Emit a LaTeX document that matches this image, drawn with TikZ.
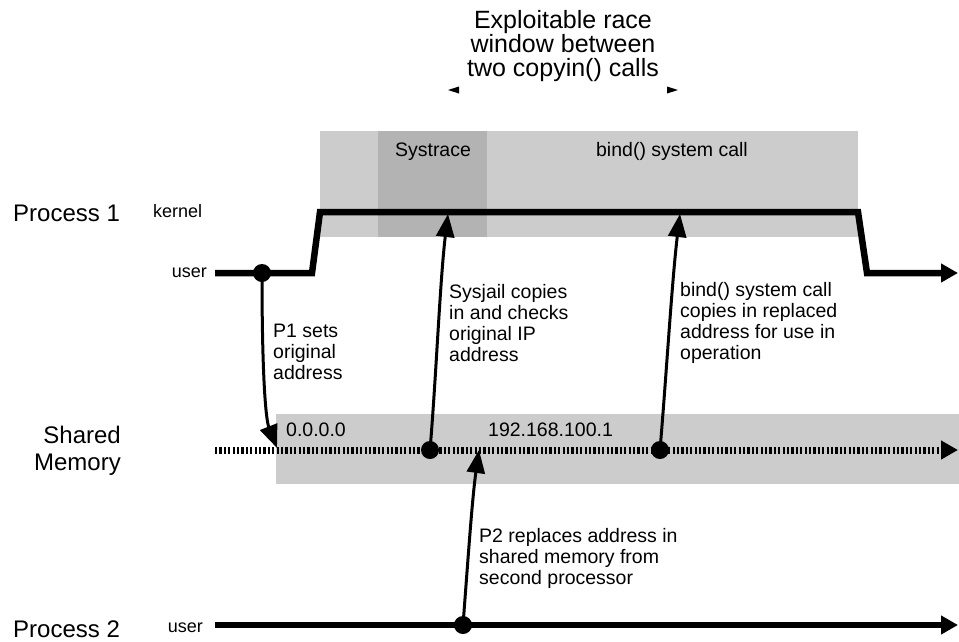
\documentclass[tikz,border=0pt]{standalone}
\usepackage{fontspec}
\setmainfont{Liberation Sans}
\usetikzlibrary{arrows.meta}
\definecolor{lg}{HTML}{CCCCCC}
\definecolor{dg}{HTML}{B3B3B3}
\begin{document}
\begin{tikzpicture}[x=1pt,y=-1pt,
  tline/.style={line width=6.5pt, line join=miter, -{Triangle[length=17pt,width=18pt]}},
  mline/.style={line width=7pt, dash pattern=on 2.2pt off 2.2pt, -{Triangle[length=17pt,width=18pt]}},
  conn/.style={line width=3pt, -{Triangle[length=23pt,width=18pt]}},
  dot/.style={circle, fill=black, inner sep=0pt, minimum size=18pt},
  lbl/.style={font=\fontsize{19.5}{21}\selectfont, align=left, anchor=north west, inner sep=0pt},
  big/.style={font=\fontsize{24}{27}\selectfont, inner sep=0pt},
  small/.style={font=\fontsize{18}{20}\selectfont, inner sep=0pt},
  mid/.style={font=\fontsize{19.5}{21}\selectfont, inner sep=0pt},
  tri/.style={fill=black}
]
\useasboundingbox (0,0) rectangle (959,641);
% background areas
\fill[lg] (320,131) rectangle (858,237);
\fill[dg] (378,131) rectangle (487,237);
\fill[lg] (276,414) rectangle (959,484);
% title
\node[font=\fontsize{25}{24}\selectfont, align=center, anchor=north, inner sep=0pt] (title) at (563,10)
  {Exploitable race\\window between\\two copyin() calls};
\fill[tri] (448,90) -- (459,86.5) -- (459,93.5) -- cycle;
\fill[tri] (678,90) -- (667,86.5) -- (667,93.5) -- cycle;
% left labels
\node[big, anchor=base west] (proc1) at (13,221) {Process 1};
\node[small, anchor=base west] (kern) at (153,217) {kernel};
\node[small, anchor=base east] (user1) at (207,277) {user};
\node[big, anchor=north east, align=right] (shm) at (121,426) {Shared\\Memory};
\node[big, anchor=base west] (proc2) at (13,637) {Process 2};
\node[small, anchor=base east] (user2) at (203,632) {user};
% region labels
\node[mid, anchor=base] (systr) at (433,156) {Systrace};
\node[mid, anchor=base] (bindc) at (672,156) {bind() system call};
\node[mid, anchor=base west] (ip0) at (286,436) {0.0.0.0};
\node[mid, anchor=base west] (ip1) at (488,436) {192.168.100.1};
% timelines
\coordinate (p1s) at (215,273);
\coordinate (p1a) at (312,273);
\coordinate (p1b) at (320,212);
\coordinate (p1c) at (858,212);
\coordinate (p1d) at (867,273);
\coordinate (p1e) at (958,273);
\draw[tline] (p1s) -- (p1a) -- (p1b) -- (p1c) -- (p1d) -- (p1e);
\coordinate (ms) at (215,450);
\coordinate (me) at (958,450);
\draw[mline] (ms) -- (me);
\coordinate (p2s) at (215,625);
\coordinate (p2e) at (958,625);
\draw[tline] (p2s) -- (p2e);
% dots
\node[dot] (d1) at (262,273) {};
\node[dot] (d2) at (430,450) {};
\node[dot] (d3) at (660,450) {};
\node[dot] (d4) at (463,625) {};
% connector targets
\coordinate (t1) at (277,448);
\coordinate (t2) at (448,214);
\coordinate (t3) at (680,214);
\coordinate (t4) at (479,450);
\draw[conn] (d1.center) .. controls (262,380) and (266,420) .. (t1);
\draw[conn] (d2.center) .. controls (436,380) and (440,280) .. (t2);
\draw[conn] (d3.center) .. controls (666,380) and (672,280) .. (t3);
\draw[conn] (d4.center) .. controls (468,560) and (472,500) .. (t4);
% connector labels
\node[lbl] (l1) at (273,324) {P1 sets\\original\\address};
\node[lbl] (l2) at (449,284) {Sysjail copies\\in and checks\\original IP\\address};
\node[lbl] (l3) at (680,282) {bind() system call\\copies in replaced\\address for use in\\operation};
\node[lbl] (l4) at (479,528) {P2 replaces address in\\shared memory from\\second processor};
\end{tikzpicture}
\end{document}
